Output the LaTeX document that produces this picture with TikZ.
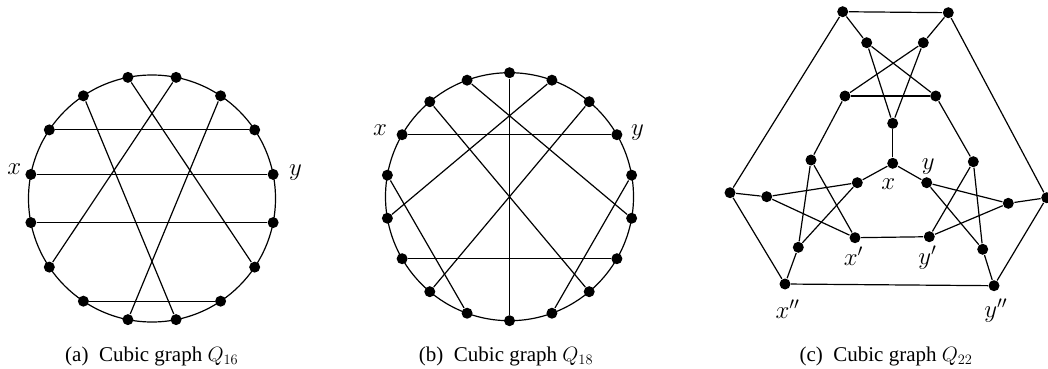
\documentclass[tikz,border=0pt]{standalone}
\usepackage{fontspec}
\setmainfont{Liberation Serif}
\tikzset{
  vtx/.style={circle, fill=black, inner sep=0pt, minimum size=11pt},
  lbl/.style={font=\fontsize{26}{28}\selectfont, inner sep=0pt},
  captxt/.style={font=\fontsize{21}{24}\selectfont, anchor=base}
}
\begin{document}
\begin{tikzpicture}[x=1pt, y=1pt, line width=1.2pt]
  \useasboundingbox (0,0) rectangle (1048,368);

  % Q16
  \begin{scope}[shift={(152,169.5)}]
    \draw (0,0) circle (123.5);
    \foreach \k in {0,...,15}
      \node[vtx] (a\k) at ({11.25+22.5*\k}:123.5) {};
    \foreach \i/\j in {0/7, 1/6, 15/8, 13/10, 4/14, 3/9, 5/12, 2/11}
      \draw (a\i) -- (a\j);
    \node[lbl] (ax) at (-137.8,29.5) {$x$};
    \node[lbl] (ay) at (143.5,25.5) {$y$};
  \end{scope}

  % Q18
  \begin{scope}[shift={(509.5,171.3)}]
    \draw (0,0) circle (124);
    \foreach \k in {0,...,17}
      \node[vtx] (b\k) at ({90+20*\k}:124) {};
    \foreach \i/\j in {0/9, 3/15, 6/12, 1/13, 17/5, 2/11, 16/7, 4/8, 14/10}
      \draw (b\i) -- (b\j);
    \node[lbl] (bx) at (-129.5,66.7) {$x$};
    \node[lbl] (by) at (128,64.2) {$y$};
  \end{scope}

  % Q22
  \foreach \n/\px/\py in {A1/842.7/356.3, A2/948.3/355.3, B1/866.7/325.3,
      B2/923.3/325.3, C1/845/272, C2/935.7/272, D/892.7/244.7, X/892.7/204.7,
      E1/811/208, E2/973.3/206.3, F1/857.3/185.3, Y/926.7/185.3,
      G1/730/175.3, H1/766.7/171.3, H2/1008.3/164.7, G2/1046.7/170.3,
      Xp/855/130.3, Yp/929.3/131.3, I1/798.3/120.7, I2/982.7/118.7,
      Xpp/785/84, Ypp/994/82.3}
    \node[vtx] (\n) at (\px,\py) {};
  \foreach \u/\v in {A1/A2, A1/G1, A2/G2, A1/B1, A2/B2, B1/C2, B2/C1,
      B1/D, B2/D, C1/C2, D/X, C1/E1, C2/E2, X/F1, X/Y, G1/H1, G1/Xpp,
      G2/H2, G2/Ypp, Xpp/Ypp, Xpp/I1, Ypp/I2, H1/F1, H1/Xp, E1/I1,
      E1/Xp, F1/I1, Xp/Yp, Y/H2, Y/I2, E2/I2, E2/Yp, H2/Yp}
    \draw (\u) -- (\v);
  \node[lbl] (cx) at (888.3,183.8) {$x$};
  \node[lbl] (cy) at (928.3,201.3) {$y$};
  \node[lbl] (cxp) at (853.3,111.5) {$x'$};
  \node[lbl] (cyp) at (927.3,110.7) {$y'$};
  \node[lbl] (cxpp) at (787.5,58.8) {$x''$};
  \node[lbl] (cypp) at (995.8,57.2) {$y''$};

  % captions
  \node[captxt] (capa) at (151.7,7) {(a)\enspace Cubic graph $Q_{16}$};
  \node[captxt] (capb) at (506,7) {(b)\enspace Cubic graph $Q_{18}$};
  \node[captxt] (capc) at (886,7) {(c)\enspace Cubic graph $Q_{22}$};
\end{tikzpicture}
\end{document}
